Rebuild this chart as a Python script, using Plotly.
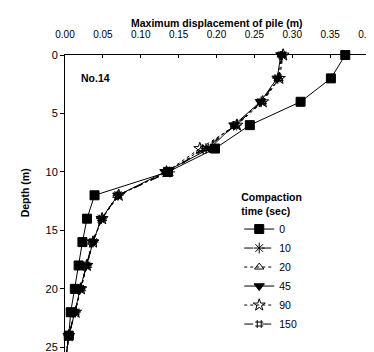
import plotly.graph_objects as go

depth = [0, 2, 4, 6, 8, 10, 12, 14, 16, 18, 20, 22, 24, 26]
t0 = [0.370, 0.351, 0.311, 0.244, 0.198, 0.136, 0.039, 0.029, 0.023, 0.018, 0.013, 0.0075, 0.005, 0.001]
t10 = [0.287, 0.281, 0.259, 0.226, 0.186, 0.138, 0.070, 0.048, 0.037, 0.028, 0.020, 0.0135, 0.005, 0.001]
t20 = [0.286, 0.282, 0.260, 0.224, 0.182, 0.136, 0.069, 0.049, 0.036, 0.029, 0.021, 0.013, 0.005, 0.001]
t45 = [0.285, 0.280, 0.258, 0.223, 0.191, 0.132, 0.070, 0.048, 0.037, 0.028, 0.020, 0.013, 0.005, 0.001]
t90 = [0.288, 0.283, 0.261, 0.227, 0.178, 0.134, 0.071, 0.049, 0.037, 0.029, 0.021, 0.014, 0.005, 0.001]
t150 = [0.287, 0.281, 0.260, 0.225, 0.184, 0.137, 0.070, 0.048, 0.036, 0.028, 0.020, 0.013, 0.005, 0.001]
series_names = ["0", "10", "20", "45", "90", "150"]
x_ticks = [0.00, 0.05, 0.10, 0.15, 0.20, 0.25, 0.30, 0.35, 0.40]
y_ticks = [0, 5, 10, 15, 20, 25]

styles = [
    dict(symbol="square", size=9, dash="solid"),
    dict(symbol="asterisk-open", size=9, dash="dash"),
    dict(symbol="triangle-up-open", size=8, dash="dot"),
    dict(symbol="triangle-down", size=9, dash="solid"),
    dict(symbol="star-open", size=9, dash="dot"),
    dict(symbol="hash-open", size=8, dash="dash"),
]

FONT = "Liberation Sans, Arial, sans-serif"
fig = go.Figure()
for name, vals, st in zip(series_names, [t0, t10, t20, t45, t90, t150], styles):
    fig.add_trace(go.Scatter(
        x=vals, y=depth, name=name, mode="lines+markers",
        line=dict(color="black", width=1, dash=st["dash"]),
        marker=dict(symbol=st["symbol"], size=st["size"], color="black",
                    line=dict(color="black", width=1)),
        cliponaxis=False,
    ))

fig.update_layout(
    width=374, height=352,
    margin=dict(l=57, r=14, t=47, b=1),
    paper_bgcolor="white", plot_bgcolor="white",
    font=dict(family=FONT, color="black", size=11),
    showlegend=True,
    legend=dict(
        x=0.575, y=0.565, xanchor="left", yanchor="top",
        bgcolor="rgba(0,0,0,0)", borderwidth=0,
        title=dict(text="<b>Compaction<br>time (sec)</b>", font=dict(size=10.5)),
        font=dict(size=10.5, family=FONT), itemwidth=30,
        tracegroupgap=0,
    ),
    xaxis=dict(
        side="top", range=[0, 0.4], tickvals=x_ticks,
        ticktext=[f"{v:.2f}" for v in x_ticks],
        ticks="inside", ticklen=3, tickwidth=1, tickcolor="black",
        ticklabelstandoff=12, ticklabeloverflow="allow",
        showline=True, linecolor="black", linewidth=1, mirror=True,
        showgrid=False, zeroline=False, tickfont=dict(size=10),
    ),
    yaxis=dict(
        range=[26, 0], tickvals=y_ticks,
        ticks="outside", ticklen=4, tickwidth=1, tickcolor="black",
        showline=True, linecolor="black", linewidth=1, mirror=True,
        showgrid=False, zeroline=False, tickfont=dict(size=11),
    ),
    annotations=[
        dict(text="<b>Maximum displacement of pile (m)</b>", xref="paper", yref="paper",
             x=0.5, y=1, yshift=32, xanchor="center", yanchor="middle",
             showarrow=False, font=dict(size=10.5)),
        dict(text="<b>Depth (m)</b>", xref="paper", yref="paper",
             x=0, xshift=-40, y=0.545, textangle=-90, xanchor="center", yanchor="middle",
             showarrow=False, font=dict(size=10.5)),
        dict(text="<b>No.14</b>", xref="paper", yref="paper",
             x=0.1, y=0.925, xanchor="center", yanchor="middle",
             showarrow=False, font=dict(size=10.5)),
    ],
)

fig.write_html("out.html")
